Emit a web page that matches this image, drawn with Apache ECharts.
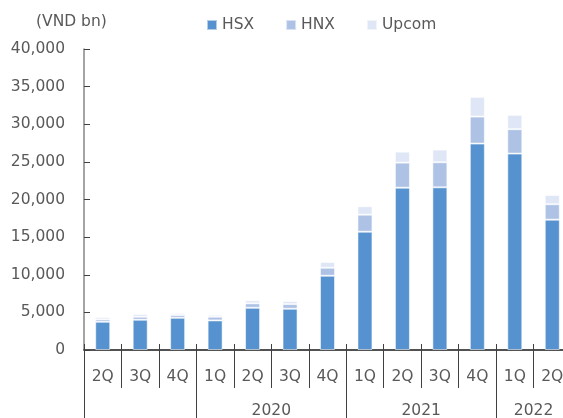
<!DOCTYPE html>
<html>
<head>
<meta charset="utf-8">
<script src="https://cdn.jsdelivr.net/npm/echarts@6/dist/echarts.min.js"></script>
<style>
html,body{margin:0;padding:0;background:#fff;}
#c{width:563px;height:418px;}
</style>
</head>
<body>
<div id="c"></div>
<script>
var quarters = ['2Q','3Q','4Q','1Q','2Q','3Q','4Q','1Q','2Q','3Q','4Q','1Q','2Q'];
var yearLabels = ['2020','2021','2022'];
var yearCenters = [5, 9, 12];
var yearBounds = [0, 3, 7, 11];
var hsx = [3750, 4020, 4280, 3930, 5610, 5480, 9870, 15720, 21570, 21620, 27430, 26100, 17320];
var hnx = [320, 400, 360, 490, 590, 620, 1060, 2260, 3330, 3330, 3590, 3240, 2050];
var upcom = [310, 350, 260, 260, 400, 400, 760, 1120, 1460, 1680, 2620, 1900, 1230];
var yTicks = [0, 5000, 10000, 15000, 20000, 25000, 30000, 35000, 40000];

var FONT = 'DejaVu Sans';
var TXT = '#595959';
var chart = echarts.init(document.getElementById('c'));
function bar(name, data, color) {
  return {
    name: name, type: 'bar', stack: 'a', data: data, barWidth: 15,
    xAxisIndex: 0, yAxisIndex: 0,
    itemStyle: {color: color, borderColor: 'rgba(255,255,255,0.55)', borderWidth: 1},
    emphasis: {disabled: true}
  };
}
chart.setOption({
  animation: false,
  backgroundColor: '#fff',
  textStyle: {fontFamily: FONT},
  title: {
    text: '(VND bn)', left: 31, top: 9,
    textStyle: {fontFamily: FONT, fontSize: 15.5, fontWeight: 'normal', color: TXT}
  },
  legend: {
    left: 201, top: 12, itemWidth: 10, itemHeight: 10, itemGap: 31,
    icon: 'rect',
    textStyle: {fontFamily: FONT, fontSize: 15.5, color: TXT},
    data: ['HSX', 'HNX', 'Upcom']
  },
  grid: {left: 84, top: 49, width: 487, bottom: 68, containLabel: false, outerBoundsMode: 'none'},
  yAxis: {
    type: 'value', min: 0, max: 40000, interval: 5000,
    axisLine: {show: true, lineStyle: {color: '#868686', width: 1.5}},
    axisTick: {show: true, inside: true, length: 6, lineStyle: {color: '#404040'}},
    splitLine: {show: false},
    axisLabel: {
      margin: 19, fontFamily: FONT, fontSize: 15.5, color: TXT,
      formatter: function (v) { return v.toLocaleString('en-US'); }
    }
  },
  xAxis: [
    {
      type: 'category', data: quarters, position: 'bottom',
      axisLine: {show: true, lineStyle: {color: '#1a1a1a', width: 1.5}},
      axisTick: {show: true, interval: 0, length: 38, lineStyle: {color: '#404040', width: 1}},
      axisLabel: {interval: 0, margin: 19, fontFamily: FONT, fontSize: 15.5, color: TXT}
    },
    {
      type: 'category', data: quarters, position: 'bottom',
      axisLine: {show: false},
      axisTick: {show: true, interval: 0, inside: true, length: 6, lineStyle: {color: '#404040', width: 1}},
      axisLabel: {show: false}
    },
    {
      type: 'value', min: 0, max: 13, position: 'bottom', offset: 38,
      axisLine: {show: false},
      splitLine: {show: false},
      axisTick: {show: true, length: 32, customValues: yearBounds, lineStyle: {color: '#404040', width: 1}},
      axisLabel: {
        margin: 15, fontFamily: FONT, fontSize: 15.5, color: TXT,
        customValues: yearCenters,
        formatter: function (v) { var i = yearCenters.indexOf(v); return i >= 0 ? yearLabels[i] : ''; }
      }
    }
  ],
  series: [
    bar('HSX', hsx, '#5592CF'),
    bar('HNX', hnx, '#ADC2E5'),
    bar('Upcom', upcom, '#DFE6F6')
  ]
});
</script>
</body>
</html>
